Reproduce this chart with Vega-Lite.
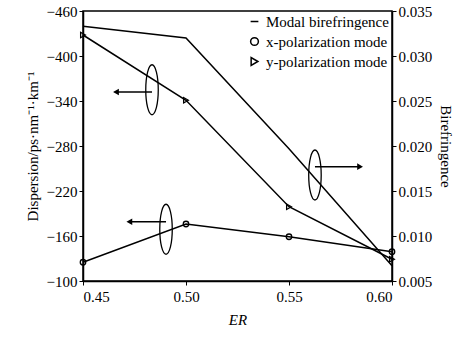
{
  "$schema": "https://vega.github.io/schema/vega-lite/v6.json",
  "width": 309,
  "height": 270,
  "padding": {"left": 25, "top": 4, "right": 5, "bottom": 5},
  "config": {
    "font": "Liberation Serif",
    "view": {"stroke": "black", "strokeWidth": 1.5},
    "axis": {
      "labelFont": "Liberation Serif", "titleFont": "Liberation Serif",
      "labelFontSize": 15, "titleFontSize": 15, "titleFontWeight": "normal",
      "labelColor": "black", "titleColor": "black",
      "domainColor": "black", "tickColor": "black", "domainWidth": 1.5,
      "grid": false, "tickSize": 4
    },
    "legend": {"labelFont": "Liberation Serif", "labelFontSize": 15, "labelColor": "black"}
  },
  "datasets": {
    "disp": [
      {"series": "x-polarization mode", "ER": 0.45, "value": -125},
      {"series": "x-polarization mode", "ER": 0.50, "value": -176},
      {"series": "x-polarization mode", "ER": 0.55, "value": -159},
      {"series": "x-polarization mode", "ER": 0.60, "value": -139},
      {"series": "y-polarization mode", "ER": 0.45, "value": -428},
      {"series": "y-polarization mode", "ER": 0.50, "value": -341},
      {"series": "y-polarization mode", "ER": 0.55, "value": -199},
      {"series": "y-polarization mode", "ER": 0.60, "value": -129}
    ],
    "modal": [
      {"series": "Modal birefringence", "ER": 0.45, "value": 0.0333},
      {"series": "Modal birefringence", "ER": 0.50, "value": 0.0320},
      {"series": "Modal birefringence", "ER": 0.55, "value": 0.0197},
      {"series": "Modal birefringence", "ER": 0.60, "value": 0.0067}
    ],
    "ellL": [
      {"ER": 0.4835, "value": -355},
      {"ER": 0.4903, "value": -169}
    ],
    "arrL": [
      {"ER": 0.4835, "ER2": 0.466, "value": -352},
      {"ER": 0.4903, "ER2": 0.4725, "value": -179}
    ],
    "ellR": [{"ER": 0.5626, "value": 0.01678}],
    "arrR": [{"ER": 0.5626, "ER2": 0.5845, "value": 0.0177}]
  },
  "layer": [
    {
      "layer": [
        {
          "data": {"name": "disp"},
          "mark": {"type": "line", "color": "black", "strokeWidth": 1.5},
          "encoding": {
            "x": {"field": "ER", "type": "quantitative", "scale": {"domain": [0.45, 0.6], "nice": false},
                  "axis": {"values": [0.45, 0.5, 0.55, 0.6], "format": ".2f", "title": "ER", "titleFontStyle": "italic", "titlePadding": 8, "labelPadding": 4}},
            "y": {"field": "value", "type": "quantitative", "scale": {"domain": [-460, -100], "reverse": true, "nice": false},
                  "axis": {"values": [-460, -400, -340, -280, -220, -160, -100], "title": "Dispersion/ps·nm⁻¹·km⁻¹", "titlePadding": 6}},
            "detail": {"field": "series"}
          }
        },
        {
          "data": {"name": "disp"},
          "mark": {"type": "point", "filled": false, "color": "black", "strokeWidth": 1.3, "size": 30, "opacity": 1},
          "encoding": {
            "x": {"field": "ER", "type": "quantitative"},
            "y": {"field": "value", "type": "quantitative"},
            "shape": {"field": "series", "type": "nominal",
                      "scale": {"domain": ["Modal birefringence", "x-polarization mode", "y-polarization mode"], "range": ["stroke", "circle", "triangle-right"]},
                      "legend": {"title": null, "orient": "top-right", "offset": 3, "padding": 0, "symbolStrokeColor": "black", "symbolStrokeWidth": 1.5, "symbolSize": 60, "rowPadding": 4, "labelOffset": 4}}
          }
        },
        {
          "data": {"name": "ellL"},
          "mark": {"type": "point", "shape": "M0,-1A0.25,1,0,1,1,0,1A0.25,1,0,1,1,0,-1Z", "size": 2500, "filled": false, "color": "black", "strokeWidth": 1.3, "opacity": 1},
          "encoding": {"x": {"field": "ER", "type": "quantitative"}, "y": {"field": "value", "type": "quantitative"}}
        },
        {
          "data": {"name": "arrL"},
          "mark": {"type": "rule", "color": "black", "strokeWidth": 1.5},
          "encoding": {"x": {"field": "ER", "type": "quantitative"}, "x2": {"field": "ER2"}, "y": {"field": "value", "type": "quantitative"}}
        },
        {
          "data": {"name": "arrL"},
          "mark": {"type": "point", "shape": "triangle-left", "size": 45, "filled": true, "color": "black", "opacity": 1},
          "encoding": {"x": {"field": "ER2", "type": "quantitative"}, "y": {"field": "value", "type": "quantitative"}}
        }
      ]
    },
    {
      "layer": [
        {
          "data": {"name": "modal"},
          "mark": {"type": "line", "color": "black", "strokeWidth": 1.5},
          "encoding": {
            "x": {"field": "ER", "type": "quantitative"},
            "y": {"field": "value", "type": "quantitative", "scale": {"domain": [0.005, 0.035], "nice": false},
                  "axis": {"orient": "right", "values": [0.005, 0.01, 0.015, 0.02, 0.025, 0.03, 0.035], "format": ".3f", "title": "Birefringence", "titlePadding": 6}}
          }
        },
        {
          "data": {"name": "ellR"},
          "mark": {"type": "point", "shape": "M0,-1A0.25,1,0,1,1,0,1A0.25,1,0,1,1,0,-1Z", "size": 2500, "filled": false, "color": "black", "strokeWidth": 1.3, "opacity": 1},
          "encoding": {"x": {"field": "ER", "type": "quantitative"}, "y": {"field": "value", "type": "quantitative"}}
        },
        {
          "data": {"name": "arrR"},
          "mark": {"type": "rule", "color": "black", "strokeWidth": 1.5},
          "encoding": {"x": {"field": "ER", "type": "quantitative"}, "x2": {"field": "ER2"}, "y": {"field": "value", "type": "quantitative"}}
        },
        {
          "data": {"name": "arrR"},
          "mark": {"type": "point", "shape": "triangle-right", "size": 45, "filled": true, "color": "black", "opacity": 1},
          "encoding": {"x": {"field": "ER2", "type": "quantitative"}, "y": {"field": "value", "type": "quantitative"}}
        }
      ]
    }
  ],
  "resolve": {"scale": {"y": "independent"}}
}
